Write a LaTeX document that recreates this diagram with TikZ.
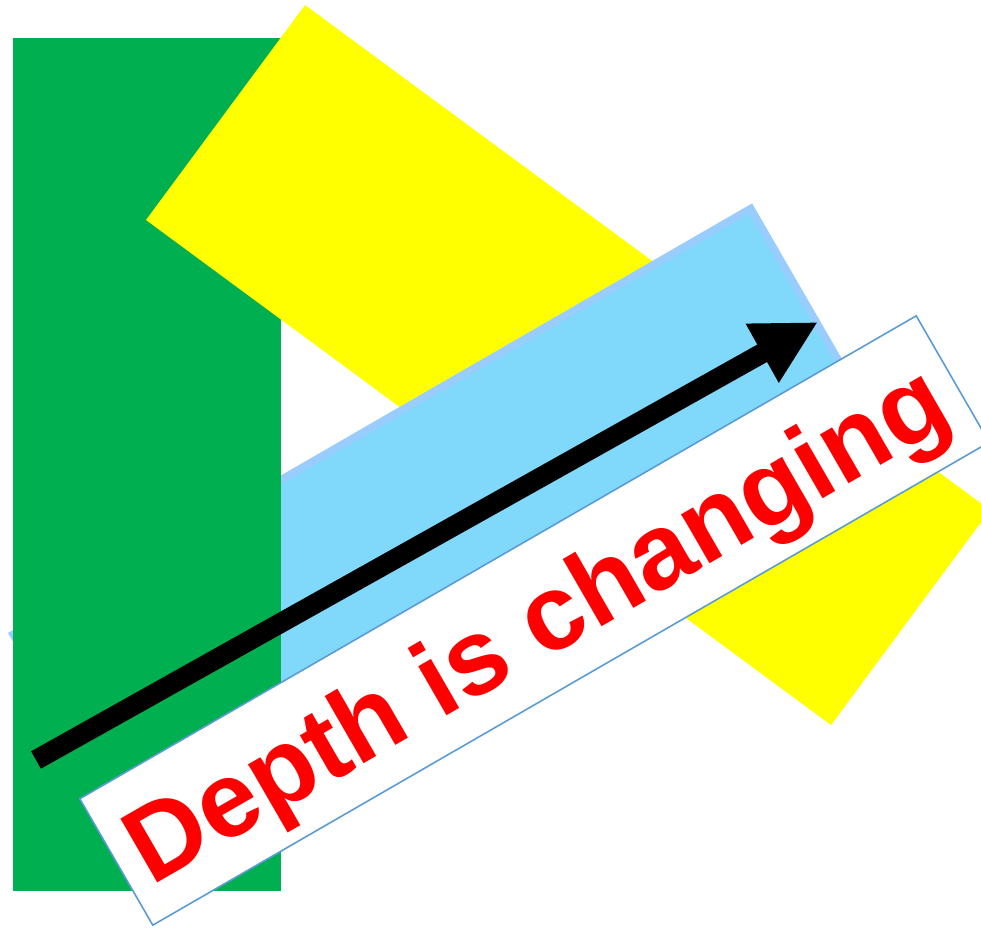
\documentclass[tikz,border=0pt]{standalone}
\usepackage{fontspec}
\setmainfont{Liberation Sans}
\usetikzlibrary{arrows.meta}

\definecolor{shapegreen}{HTML}{00B050}
\definecolor{shapeyellow}{HTML}{FFFF00}
\definecolor{shapeblue}{HTML}{80D9FA}
\definecolor{blueedge}{HTML}{99CCFF}
\definecolor{boxedge}{HTML}{5B9BD5}

\begin{document}
\begin{tikzpicture}[
  x=0.02cm, y=-0.02cm,
  greenrect/.style={fill=shapegreen},
  yellowrect/.style={fill=shapeyellow},
  bluerect/.style={fill=shapeblue, draw=blueedge, line width=0.15cm},
  labelbox/.style={draw=boxedge, line width=0.9pt, fill=white, rotate=30,
                   minimum width=19.32cm, minimum height=2.92cm, inner sep=0pt,
                   text depth=0pt, text=red,
                   font={\fontsize{61}{62}\selectfont\bfseries}},
  arr/.style={-{Triangle[length=1.28cm,width=1.26cm]}, line width=0.4cm}
]
\useasboundingbox (0,0) rectangle (981,929);

% the three shapes overlap in a cycle:
% yellow over green, green over blue, blue over yellow
\fill[yellowrect] (146,220) -- (305,5) -- (990,510) -- (831,725) -- cycle;

\begin{scope}[shift={(8,633)}, rotate=30]
  \filldraw[bluerect] (3.75,3.75) rectangle (855.5,236.25);
\end{scope}

\fill[greenrect] (13,38) rectangle (281,891);

% yellow again, only where it lies over the green
\begin{scope}
  \clip (13,38) rectangle (281,891);
  \fill[yellowrect] (146,220) -- (305,5) -- (990,510) -- (831,725) -- cycle;
\end{scope}

\coordinate (tail) at (36,760);
\coordinate (tip) at (818,322);
\draw[arr] (tail) -- (tip);

\node[labelbox] (depthlabel) at (534.5,620.5) {Depth is changing};
\end{tikzpicture}
\end{document}
